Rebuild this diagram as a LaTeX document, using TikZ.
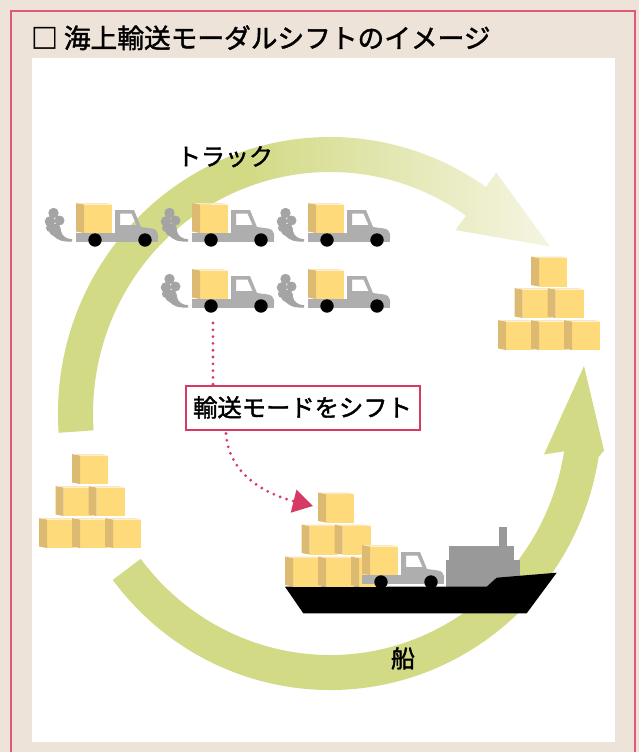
\documentclass[tikz,border=0pt]{standalone}
\usepackage{fontspec}
\newfontfamily\jp{Noto Sans CJK JP}[FakeBold=1.6]
\usetikzlibrary{arrows.meta}

\definecolor{paper}{HTML}{EDE3D9}
\definecolor{frame}{HTML}{E0587C}
\definecolor{loopgreen}{HTML}{D3DA86}
\definecolor{loopfade}{HTML}{F5F5E2}
\definecolor{cubefront}{HTML}{FFDA7B}
\definecolor{cubeside}{HTML}{DDBA72}
\definecolor{cubetop}{HTML}{FBE7BC}
\definecolor{truckgrey}{HTML}{AEAEAE}
\definecolor{smokegrey}{HTML}{A4A4A4}
\definecolor{deckgrey}{HTML}{999999}
\definecolor{shiftpink}{HTML}{D63A64}

% the truck loop fades out towards its arrow head
\pgfdeclarehorizontalshading{loopshade}{100bp}{color(0bp)=(loopgreen); color(25bp)=(loopgreen); color(45bp)=(loopgreen); color(75bp)=(loopfade); color(100bp)=(loopfade)}

\tikzset{
  cube/.pic={
    \fill[cubefront] (8,-28.5) rectangle (36,0);
    \fill[cubeside] (0,-30) -- (8,-28.5) -- (8,0) -- (0,-1.5) -- cycle;
    \fill[cubetop] (0,-30) -- (30,-30) -- (36,-28.5) -- (8,-28.5) -- cycle;
  },
  lorry/.pic={
    \pic {cube};
    \fill[truckgrey] (0,0) rectangle (82,8.5);
    \fill[truckgrey, even odd rule]
      (39,5) -- (39,-23) -- (58,-23) -- (65,-6) -- (76,-4.5)
      .. controls (80,-4) and (82,-1) .. (82,2) -- (82,5) -- cycle
      (44,-19.5) -- (55.5,-19.5) -- (60.5,-8) -- (44,-8) -- cycle;
    \fill (19,7) circle (6.7) (69,7) circle (6.7);
  },
  smoke/.pic={
    \fill[smokegrey] (-22.5,-20) circle (5.2) (-26,-11.5) circle (5.3)
      (-16.5,-12.5) circle (5) (-21,-3) circle (6) (-26,-5) circle (4);
    \fill[smokegrey] (-24,1) .. controls (-18,9) and (-10,8.7) .. (-4,8.7)
      -- (-4,6.2) .. controls (-10,6) and (-14,3) .. (-15,-2) -- cycle;
  },
  roadlorry/.pic={\pic {smoke}; \pic {lorry};},
  shiftdots/.style={draw=shiftpink, line width=3.1pt, line cap=round,
    dash pattern=on 0pt off 6.8pt},
  shiftlabel/.style={draw=shiftpink, line width=2pt, fill=white,
    minimum width=234pt, minimum height=44pt, inner sep=0pt,
    font=\jp\fontsize{24.3}{24.3}\selectfont, text height=20pt, text depth=1.7pt},
  caption/.style={anchor=base, inner sep=0pt, font=\jp\fontsize{24}{24}\selectfont},
}

\begin{document}
\begin{tikzpicture}[x=1pt, y=-1pt]
  \useasboundingbox (0,0) rectangle (639,752);
  \fill[paper] (0,0) rectangle (639,752);
  \draw[frame, line width=2pt] (11,11) rectangle (635,770);
  \fill[white] (32,58) rectangle (615,742);

  \node[anchor=base west, inner sep=0pt, font=\jp\fontsize{26.7}{26.7}\selectfont]
    (title) at (31,48) {□ 海上輸送モーダルシフトのイメージ};

  % the two halves of the loop
  \begin{scope}[shift={(330,413.5)}]
    \shade[shading=loopshade]
      (176:272 and 276.5) arc[start angle=176, end angle=305, x radius=272, y radius=276.5]
      -- (305:290 and 294) -- (220,-167) -- (305:219 and 224)
      -- (305:237 and 241.5) arc[start angle=305, end angle=176, x radius=237, y radius=241.5]
      -- cycle;
    \fill[loopgreen]
      (143:272 and 276.5) arc[start angle=143, end angle=9, x radius=272, y radius=276.5]
      -- (274,37) -- (254,-47.5) -- (214,41)
      -- (9:237 and 241.5) arc[start angle=9, end angle=143, x radius=237, y radius=241.5]
      -- cycle;
  \end{scope}

  \node[caption] (trucklabel) at (225,165.5) {トラック};
  \node[caption] (shiplabel) at (403,667.5) {船};

  % lorries on the road
  \pic at (76,233) {roadlorry};
  \pic at (192,233) {roadlorry};
  \pic at (308,233) {roadlorry};
  \pic at (192,299) {roadlorry};
  \pic at (308,299) {roadlorry};

  % cargo waiting at the far port
  \foreach \x in {498,531,564} \pic at (\x,350) {cube};
  \foreach \x in {514.5,547.5} \pic at (\x,318) {cube};
  \pic at (531,286.5) {cube};

  % cargo at the origin
  \foreach \x in {39,72,105} \pic at (\x,548) {cube};
  \foreach \x in {55.5,88.5} \pic at (\x,516) {cube};
  \pic at (72,484) {cube};

  % the ship
  \fill[deckgrey] (499.3,526.7) rectangle (506.7,546.5);
  \fill[deckgrey] (449,545.7) rectangle (514,560.5);
  \fill[deckgrey] (445.7,560) rectangle (520,587);
  \fill[black] (285,586.7) -- (486.7,586.7) -- (496.7,577.7) -- (556.7,572.7)
    -- (526.7,613.3) -- (303.3,613.3) -- cycle;
  \foreach \x in {285,318,351} \pic at (\x,586.5) {cube};
  \foreach \x in {301.5,334.5} \pic at (\x,554.5) {cube};
  \pic at (318,522.5) {cube};
  \pic at (362,575) {lorry};

  % mode shift
  \node[shiftlabel] (shift) at (302.5,407.5) {輸送モードをシフト};
  \coordinate (lorrydrop) at (213,323);
  \coordinate (shipload) at (313,506);
  \draw[shiftdots] (lorrydrop) -- (shift.north -| lorrydrop);
  \draw[shiftdots, -{Triangle[length=20pt, width=23pt]}]
    ([xshift=-76.5pt, yshift=-3pt]shift.south) .. controls +(3,45) and +(-40,-10) .. (shipload);
\end{tikzpicture}
\end{document}
